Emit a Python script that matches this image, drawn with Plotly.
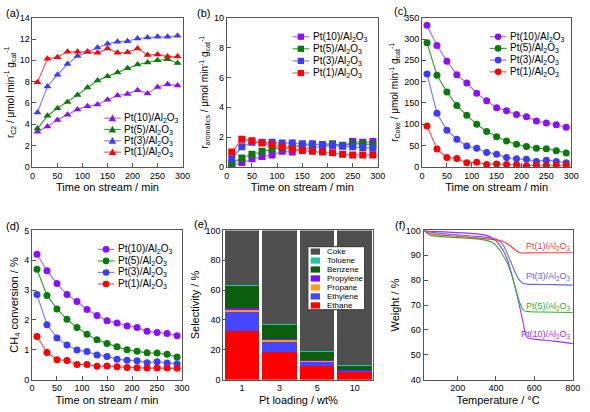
import plotly.graph_objects as go

W, H = 590, 412

# ---------------- data ----------------
time_min = [10, 30, 50, 70, 90, 110, 130, 150, 170, 190, 210, 230, 250, 270, 290]
catalysts = ["Pt(10)/Al<sub>2</sub>O<sub>3</sub>", "Pt(5)/Al<sub>2</sub>O<sub>3</sub>",
             "Pt(3)/Al<sub>2</sub>O<sub>3</sub>", "Pt(1)/Al<sub>2</sub>O<sub>3</sub>"]

rc2_pt10 = [3.3, 3.8, 4.4, 4.9, 5.4, 5.7, 5.85, 6.3, 6.7, 6.85, 7.2, 6.9, 7.5, 7.75, 7.65]
rc2_pt5 = [3.6, 4.8, 5.5, 6.1, 6.75, 7.45, 8.1, 8.5, 8.85, 9.25, 9.6, 9.8, 10.0, 10.1, 9.75]
rc2_pt3 = [5.1, 7.55, 8.65, 9.65, 10.4, 10.8, 11.2, 11.55, 11.75, 11.8, 12.05, 12.15, 12.2, 12.2, 12.3]
rc2_pt1 = [7.95, 10.15, 10.3, 10.8, 10.8, 10.8, 10.7, 11.1, 10.7, 10.75, 11.1, 10.5, 10.55, 10.35, 10.35]

rar_pt10 = [0.1, 0.3, 0.55, 0.7, 0.8, 1.05, 1.0, 1.2, 1.3, 1.4, 1.45, 1.4, 1.7, 1.65, 1.7]
rar_pt5 = [0.25, 0.6, 0.85, 1.05, 1.2, 1.3, 1.4, 1.45, 1.5, 1.5, 1.55, 1.45, 1.55, 1.55, 1.5]
rar_pt3 = [0.55, 1.35, 1.65, 1.65, 1.65, 1.6, 1.6, 1.55, 1.55, 1.5, 1.45, 1.4, 1.35, 1.3, 1.25]
rar_pt1 = [1.0, 1.85, 1.75, 1.6, 1.5, 1.35, 1.2, 1.1, 1.05, 1.0, 0.95, 0.85, 0.8, 0.8, 0.8]

rcoke_pt10 = [332, 285, 248, 216, 197, 173, 155, 139, 132, 123, 118, 108, 103, 99, 93]
rcoke_pt5 = [291, 215, 176, 144, 121, 100, 83, 71, 61, 53, 48, 44, 43, 38, 33]
rcoke_pt3 = [218, 126, 86, 65, 49, 44, 34, 30, 22, 19, 18, 13, 16, 13, 10]
rcoke_pt1 = [96, 42, 22, 20, 10, 11, 6, 7, 6, 5, 3, 4, 4, 4, 4]

conv_pt10 = [4.2, 3.65, 3.22, 2.85, 2.62, 2.35, 2.15, 1.97, 1.9, 1.8, 1.75, 1.62, 1.58, 1.55, 1.47]
conv_pt5 = [3.7, 2.82, 2.37, 2.02, 1.75, 1.52, 1.34, 1.21, 1.1, 1.0, 0.95, 0.9, 0.89, 0.85, 0.76]
conv_pt3 = [2.85, 1.84, 1.4, 1.16, 0.99, 0.94, 0.83, 0.78, 0.68, 0.65, 0.63, 0.57, 0.6, 0.56, 0.53]
conv_pt1 = [1.45, 0.91, 0.67, 0.64, 0.51, 0.51, 0.45, 0.46, 0.43, 0.41, 0.4, 0.39, 0.39, 0.39, 0.38]

pt_loading = ["1", "3", "5", "10"]
products = ["Ethane", "Ethylene", "Propane", "Propylene", "Benzene", "Toluene", "Coke"]
sel_ethane = [32.3, 18.8, 9.3, 5.2]
sel_ethylene = [13.2, 6.6, 2.4, 0.6]
sel_propane = [1.0, 1.0, 0.8, 0.3]
sel_propylene = [1.2, 0.6, 0.4, 0.4]
sel_benzene = [15.0, 9.5, 5.5, 2.8]
sel_toluene = [1.0, 0.9, 0.5, 0.6]
sel_coke = [36.3, 62.6, 81.1, 90.1]

tga_t_pt1 = [25, 40, 60, 100, 150, 200, 250, 300, 350, 400, 430, 460, 490, 510, 525, 540, 600, 700, 800]
tga_w_pt1 = [100, 99.3, 98.7, 98.2, 97.9, 97.6, 97.3, 97.0, 96.6, 96.2, 95.7, 94.6, 92.8, 91.6, 91.0, 90.9, 91.0, 91.0, 91.0]
tga_t_pt3 = [25, 50, 100, 150, 200, 250, 300, 350, 400, 420, 440, 460, 480, 500, 520, 540, 560, 600, 700, 800]
tga_w_pt3 = [100, 99.5, 98.9, 98.5, 98.2, 97.9, 97.6, 97.2, 96.5, 95.6, 93.8, 90.5, 86.8, 83.2, 80.2, 78.8, 78.4, 78.3, 78.2, 78.0]
tga_t_pt5 = [25, 40, 60, 100, 150, 200, 250, 300, 350, 380, 400, 420, 440, 460, 480, 500, 520, 540, 555, 580, 650, 800]
tga_w_pt5 = [100, 98.8, 98.0, 97.6, 97.3, 97.1, 96.9, 96.6, 96.0, 95.2, 94.0, 92.0, 89.5, 86.8, 82.5, 77.2, 71.8, 68.2, 67.5, 67.3, 67.2, 67.0]
tga_t_pt10 = [25, 50, 100, 150, 200, 250, 300, 350, 380, 400, 420, 440, 460, 480, 500, 520, 540, 555, 565, 600, 700, 800]
tga_w_pt10 = [100, 99.7, 99.5, 99.3, 99.1, 98.9, 98.6, 98.0, 97.0, 95.8, 94.0, 91.5, 88.0, 83.0, 77.0, 70.5, 63.5, 58.0, 56.8, 56.3, 55.5, 54.5]

# ---------------- styles ----------------
FONT = "Arial, Liberation Sans, Helvetica, sans-serif"
mcolors = ["#8a10ff", "#0a7a0a", "#3c3cff", "#ff0000"]
lcolors = ["#b070ff", "#40a040", "#8080ff", "#ff5a5a"]
tga_colors = ["#a030ff", "#30b030", "#6464ff", "#ff3a3a"]
bar_colors = {"Ethane": "#ff0000", "Ethylene": "#4646ff", "Propane": "#ff9c1a",
              "Propylene": "#7a10ff", "Benzene": "#0b5e0b", "Toluene": "#22c8a0", "Coke": "#4f4f4f"}

fig = go.Figure()

def add_series(xv, ys, xa, ya, symbol):
    for name, y, mc, lc in zip(catalysts, ys, mcolors, lcolors):
        fig.add_trace(go.Scatter(x=xv, y=y, xaxis=xa, yaxis=ya, name=name, mode="lines+markers",
                                 line=dict(color=lc, width=1.2),
                                 marker=dict(symbol=symbol, size=7, color=mc, line=dict(width=0)),
                                 showlegend=False))

add_series(time_min, [rc2_pt10, rc2_pt5, rc2_pt3, rc2_pt1], "x", "y", "triangle-up")
add_series(time_min, [rar_pt10, rar_pt5, rar_pt3, rar_pt1], "x2", "y2", "square")
add_series(time_min, [rcoke_pt10, rcoke_pt5, rcoke_pt3, rcoke_pt1], "x3", "y3", "circle")
add_series(time_min, [conv_pt10, conv_pt5, conv_pt3, conv_pt1], "x4", "y4", "circle")

sel = [sel_ethane, sel_ethylene, sel_propane, sel_propylene, sel_benzene, sel_toluene, sel_coke]
for name, vals in zip(products, sel):
    fig.add_trace(go.Bar(x=pt_loading, y=vals, name=name, xaxis="x5", yaxis="y5",
                         marker=dict(color=bar_colors[name], line=dict(width=0)), showlegend=False))

for name, t, w, c in zip(catalysts, [tga_t_pt10, tga_t_pt5, tga_t_pt3, tga_t_pt1],
                         [tga_w_pt10, tga_w_pt5, tga_w_pt3, tga_w_pt1], tga_colors):
    fig.add_trace(go.Scatter(x=t, y=w, xaxis="x6", yaxis="y6", mode="lines", name=name,
                             line=dict(color=c, width=1.1, shape="spline", smoothing=0.6), showlegend=False))

# ---------------- axes ----------------
def px(x):
    return x / W

def py(y):
    return 1 - y / H

def axis(domain, rng, dtick, title, anchor, tsize=11, **kw):
    d = dict(domain=domain, range=rng, dtick=dtick, anchor=anchor,
             title=dict(text=title, font=dict(size=tsize, family=FONT, color="black"), standoff=3),
             showline=True, mirror=True, linecolor="#555", linewidth=1,
             ticks="inside", ticklen=4, tickcolor="#555", tickwidth=1,
             tickfont=dict(size=9, family=FONT, color="black"),
             showgrid=False, zeroline=False)
    d.update(kw)
    return d

rc_units = " / μmol min<sup>-1</sup> g<sub>cat</sub><sup>-1</sup>"
tos = "Time on stream / min"
top = [py(166), py(13)]
bot = [py(384), py(231)]

layout = dict(
    xaxis=axis([px(30), px(183)], [0, 300], 50, tos, "y"),
    yaxis=axis(top, [0, 14], 2, "r<sub>C2</sub>" + rc_units, "x", tsize=10),
    xaxis2=axis([px(228), px(382)], [0, 300], 50, tos, "y2"),
    yaxis2=axis(top, [0, 10], 2, "r<sub>aromatics</sub>" + rc_units, "x2", tsize=10),
    xaxis3=axis([px(427), px(579)], [0, 300], 50, tos, "y3"),
    yaxis3=axis(top, [0, 350], 50, "r<sub>Coke</sub>" + rc_units, "x3", tsize=10),
    xaxis4=axis([px(29.5), px(182.5)], [0, 300], 50, tos, "y4"),
    yaxis4=axis(bot, [0, 5], 1, "CH<sub>4</sub> conversion / %", "x4"),
    xaxis5=axis([px(224.5), px(377.5)], [-0.5, 3.5], None, "Pt loading / wt%", "y5",
                type="category", ticks=""),
    yaxis5=axis(bot, [0, 100], 20, "Selectivity / %", "x5"),
    xaxis6=axis([px(428.5), px(580.5)], [22, 800], 200, "Temperature / °C", "y6"),
    yaxis6=axis(bot, [40, 100], 10, "Weight / %", "x6"),
)

shapes = []
annotations = []

def add_line_legend(x0, y0, dy, symbol):
    for i, (name, mc, lc) in enumerate(zip(catalysts, mcolors, lcolors)):
        yc = y0 + i * dy
        shapes.append(dict(type="line", xref="paper", yref="paper", x0=px(x0), x1=px(x0 + 17),
                           y0=py(yc), y1=py(yc), line=dict(color=lc, width=1.2)))
        cx = x0 + 8.5
        if symbol == "circle":
            r = 3.4
            shapes.append(dict(type="circle", xref="paper", yref="paper", x0=px(cx - r), x1=px(cx + r),
                               y0=py(yc + r), y1=py(yc - r), fillcolor=mc, line=dict(width=0)))
        elif symbol == "square":
            r = 3.2
            shapes.append(dict(type="rect", xref="paper", yref="paper", x0=px(cx - r), x1=px(cx + r),
                               y0=py(yc + r), y1=py(yc - r), fillcolor=mc, line=dict(width=0)))
        else:
            r = 3.8
            path = "M {:.5f},{:.5f} L {:.5f},{:.5f} L {:.5f},{:.5f} Z".format(
                px(cx), py(yc - r), px(cx - r), py(yc + r * 0.8), px(cx + r), py(yc + r * 0.8))
            shapes.append(dict(type="path", xref="paper", yref="paper", path=path,
                               fillcolor=mc, line=dict(width=0)))
        annotations.append(dict(text=name, x=px(x0 + 19.5), y=py(yc), xref="paper", yref="paper",
                                xanchor="left", yanchor="middle", showarrow=False, borderpad=0,
                                font=dict(size=10, family=FONT, color="black")))

add_line_legend(103, 116, 11.6, "triangle")
add_line_legend(295, 32.5, 12.4, "square")
add_line_legend(496, 32.5, 12.0, "circle")
add_line_legend(96.5, 250.5, 11.8, "circle")

# legend for panel (e)
shapes.append(dict(type="rect", xref="paper", yref="paper", x0=px(310.7), x1=px(368.5),
                   y0=py(312.3), y1=py(247.7), fillcolor="white", line=dict(color="#333", width=1)))
for i, name in enumerate(reversed(products)):
    yc = 252.7 + i * 9.2
    shapes.append(dict(type="rect", xref="paper", yref="paper", x0=px(313.5), x1=px(323),
                       y0=py(yc + 3.2), y1=py(yc - 3.2), fillcolor=bar_colors[name], line=dict(width=0)))
    annotations.append(dict(text=name, x=px(329.5), y=py(yc), xref="paper", yref="paper",
                            xanchor="left", yanchor="middle", showarrow=False, borderpad=0,
                            font=dict(size=8, family=FONT, color="black")))

# labels in panel (f)
for name, c, yv in zip(catalysts, tga_colors, [58.3, 69.6, 81.3, 93.7]):
    annotations.append(dict(text=name, x=798, y=yv, xref="x6", yref="y6", xanchor="right",
                            yanchor="middle", showarrow=False, borderpad=0,
                            font=dict(size=9, family=FONT, color=c)))

# panel letters
for lab, x, y in [("(a)", 2, 8), ("(b)", 197, 8), ("(c)", 397, 6),
                  ("(d)", 2, 226), ("(e)", 194, 224), ("(f)", 398, 225)]:
    annotations.append(dict(text=lab, x=px(x), y=py(y), xref="paper", yref="paper",
                            xanchor="left", yanchor="middle", showarrow=False, borderpad=0,
                            font=dict(size=11, family=FONT, color="black")))

fig.update_layout(**layout)
fig.update_layout(width=W, height=H, margin=dict(l=0, r=0, t=0, b=0),
                  paper_bgcolor="white", plot_bgcolor="white",
                  barmode="stack", bargap=0.08, showlegend=False,
                  font=dict(family=FONT, color="black"),
                  shapes=shapes, annotations=annotations)

fig.write_html("out.html", config={"displayModeBar": False},
               post_script="document.body.style.margin='0px';")
